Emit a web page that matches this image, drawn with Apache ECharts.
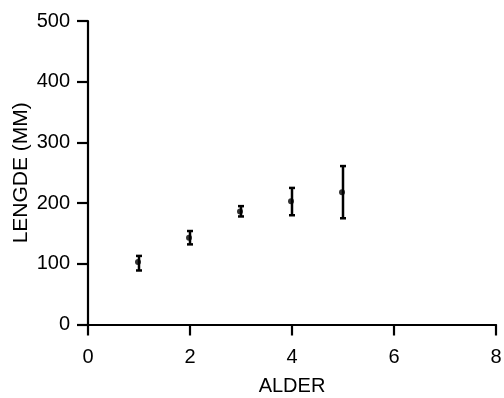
<!DOCTYPE html>
<html>
<head>
<meta charset="utf-8">
<style>
  html, body { margin: 0; padding: 0; background: #fff; }
  #chart { width: 504px; height: 398px; }
</style>
<script src="https://cdn.jsdelivr.net/npm/echarts@6/dist/echarts.min.js"></script>
</head>
<body>
<div id="chart"></div>
<script>
// Length at age: mean with error range
const ages = [1, 2, 3, 4, 5];
const meanLength = [103, 143, 186, 203, 218];
const lowLength = [89, 132, 178, 180, 175];
const highLength = [113, 154, 195, 225, 261];

const xTicks = [0, 2, 4, 6, 8];
const yTicks = [0, 100, 200, 300, 400, 500];

const FONT = '"Liberation Sans", Arial, sans-serif';

const errorData = ages.map((a, i) => [a, lowLength[i], highLength[i]]);
const meanData = ages.map((a, i) => [a, meanLength[i]]);

const chart = echarts.init(document.getElementById('chart'));

const axisCommon = {
  axisLine: { lineStyle: { color: '#000', width: 2.2 } },
  axisTick: { inside: false, length: 11, lineStyle: { color: '#000', width: 2.2 } },
  splitLine: { show: false },
  nameMoveOverlap: false,
  nameTextStyle: { color: '#000', fontFamily: FONT, fontSize: 20 },
  axisLabel: { color: '#000', fontFamily: FONT, fontSize: 20 }
};

chart.setOption({
  animation: false,
  backgroundColor: '#fff',
  grid: {
    left: 88, right: 8, top: 21, bottom: 73.5,
    containLabel: false,
    outerBoundsMode: 'none'
  },
  xAxis: Object.assign({}, axisCommon, {
    type: 'value',
    min: xTicks[0],
    max: xTicks[xTicks.length - 1],
    interval: xTicks[1] - xTicks[0],
    axisLabel: Object.assign({}, axisCommon.axisLabel, { margin: 23 }),
    name: 'ALDER',
    nameLocation: 'middle',
    nameGap: 52
  }),
  yAxis: Object.assign({}, axisCommon, {
    type: 'value',
    min: yTicks[0],
    max: yTicks[yTicks.length - 1],
    interval: yTicks[1] - yTicks[0],
    axisLabel: Object.assign({}, axisCommon.axisLabel, { margin: 18 }),
    name: 'LENGDE (MM)',
    nameLocation: 'middle',
    nameGap: 56,
    nameTextStyle: Object.assign({}, axisCommon.nameTextStyle, { fontSize: 21 })
  }),
  series: [
    {
      type: 'custom',
      data: errorData,
      encode: { x: 0, y: [1, 2] },
      renderItem: function (params, api) {
        const x = api.value(0);
        const lo = api.coord([x, api.value(1)]);
        const hi = api.coord([x, api.value(2)]);
        const cap = 3;
        const style = { stroke: '#000', lineWidth: 2.5 };
        return {
          type: 'group',
          children: [
            { type: 'line', shape: { x1: lo[0], y1: lo[1], x2: hi[0], y2: hi[1] }, style: style },
            { type: 'line', shape: { x1: lo[0] - cap, y1: lo[1], x2: lo[0] + cap, y2: lo[1] }, style: style },
            { type: 'line', shape: { x1: hi[0] - cap, y1: hi[1], x2: hi[0] + cap, y2: hi[1] }, style: style }
          ]
        };
      },
      z: 2
    },
    {
      type: 'scatter',
      data: meanData,
      symbol: 'circle',
      symbolSize: 6,
      symbolOffset: [-1, 0],
      itemStyle: { color: '#000' },
      z: 3
    }
  ]
});
</script>
</body>
</html>
